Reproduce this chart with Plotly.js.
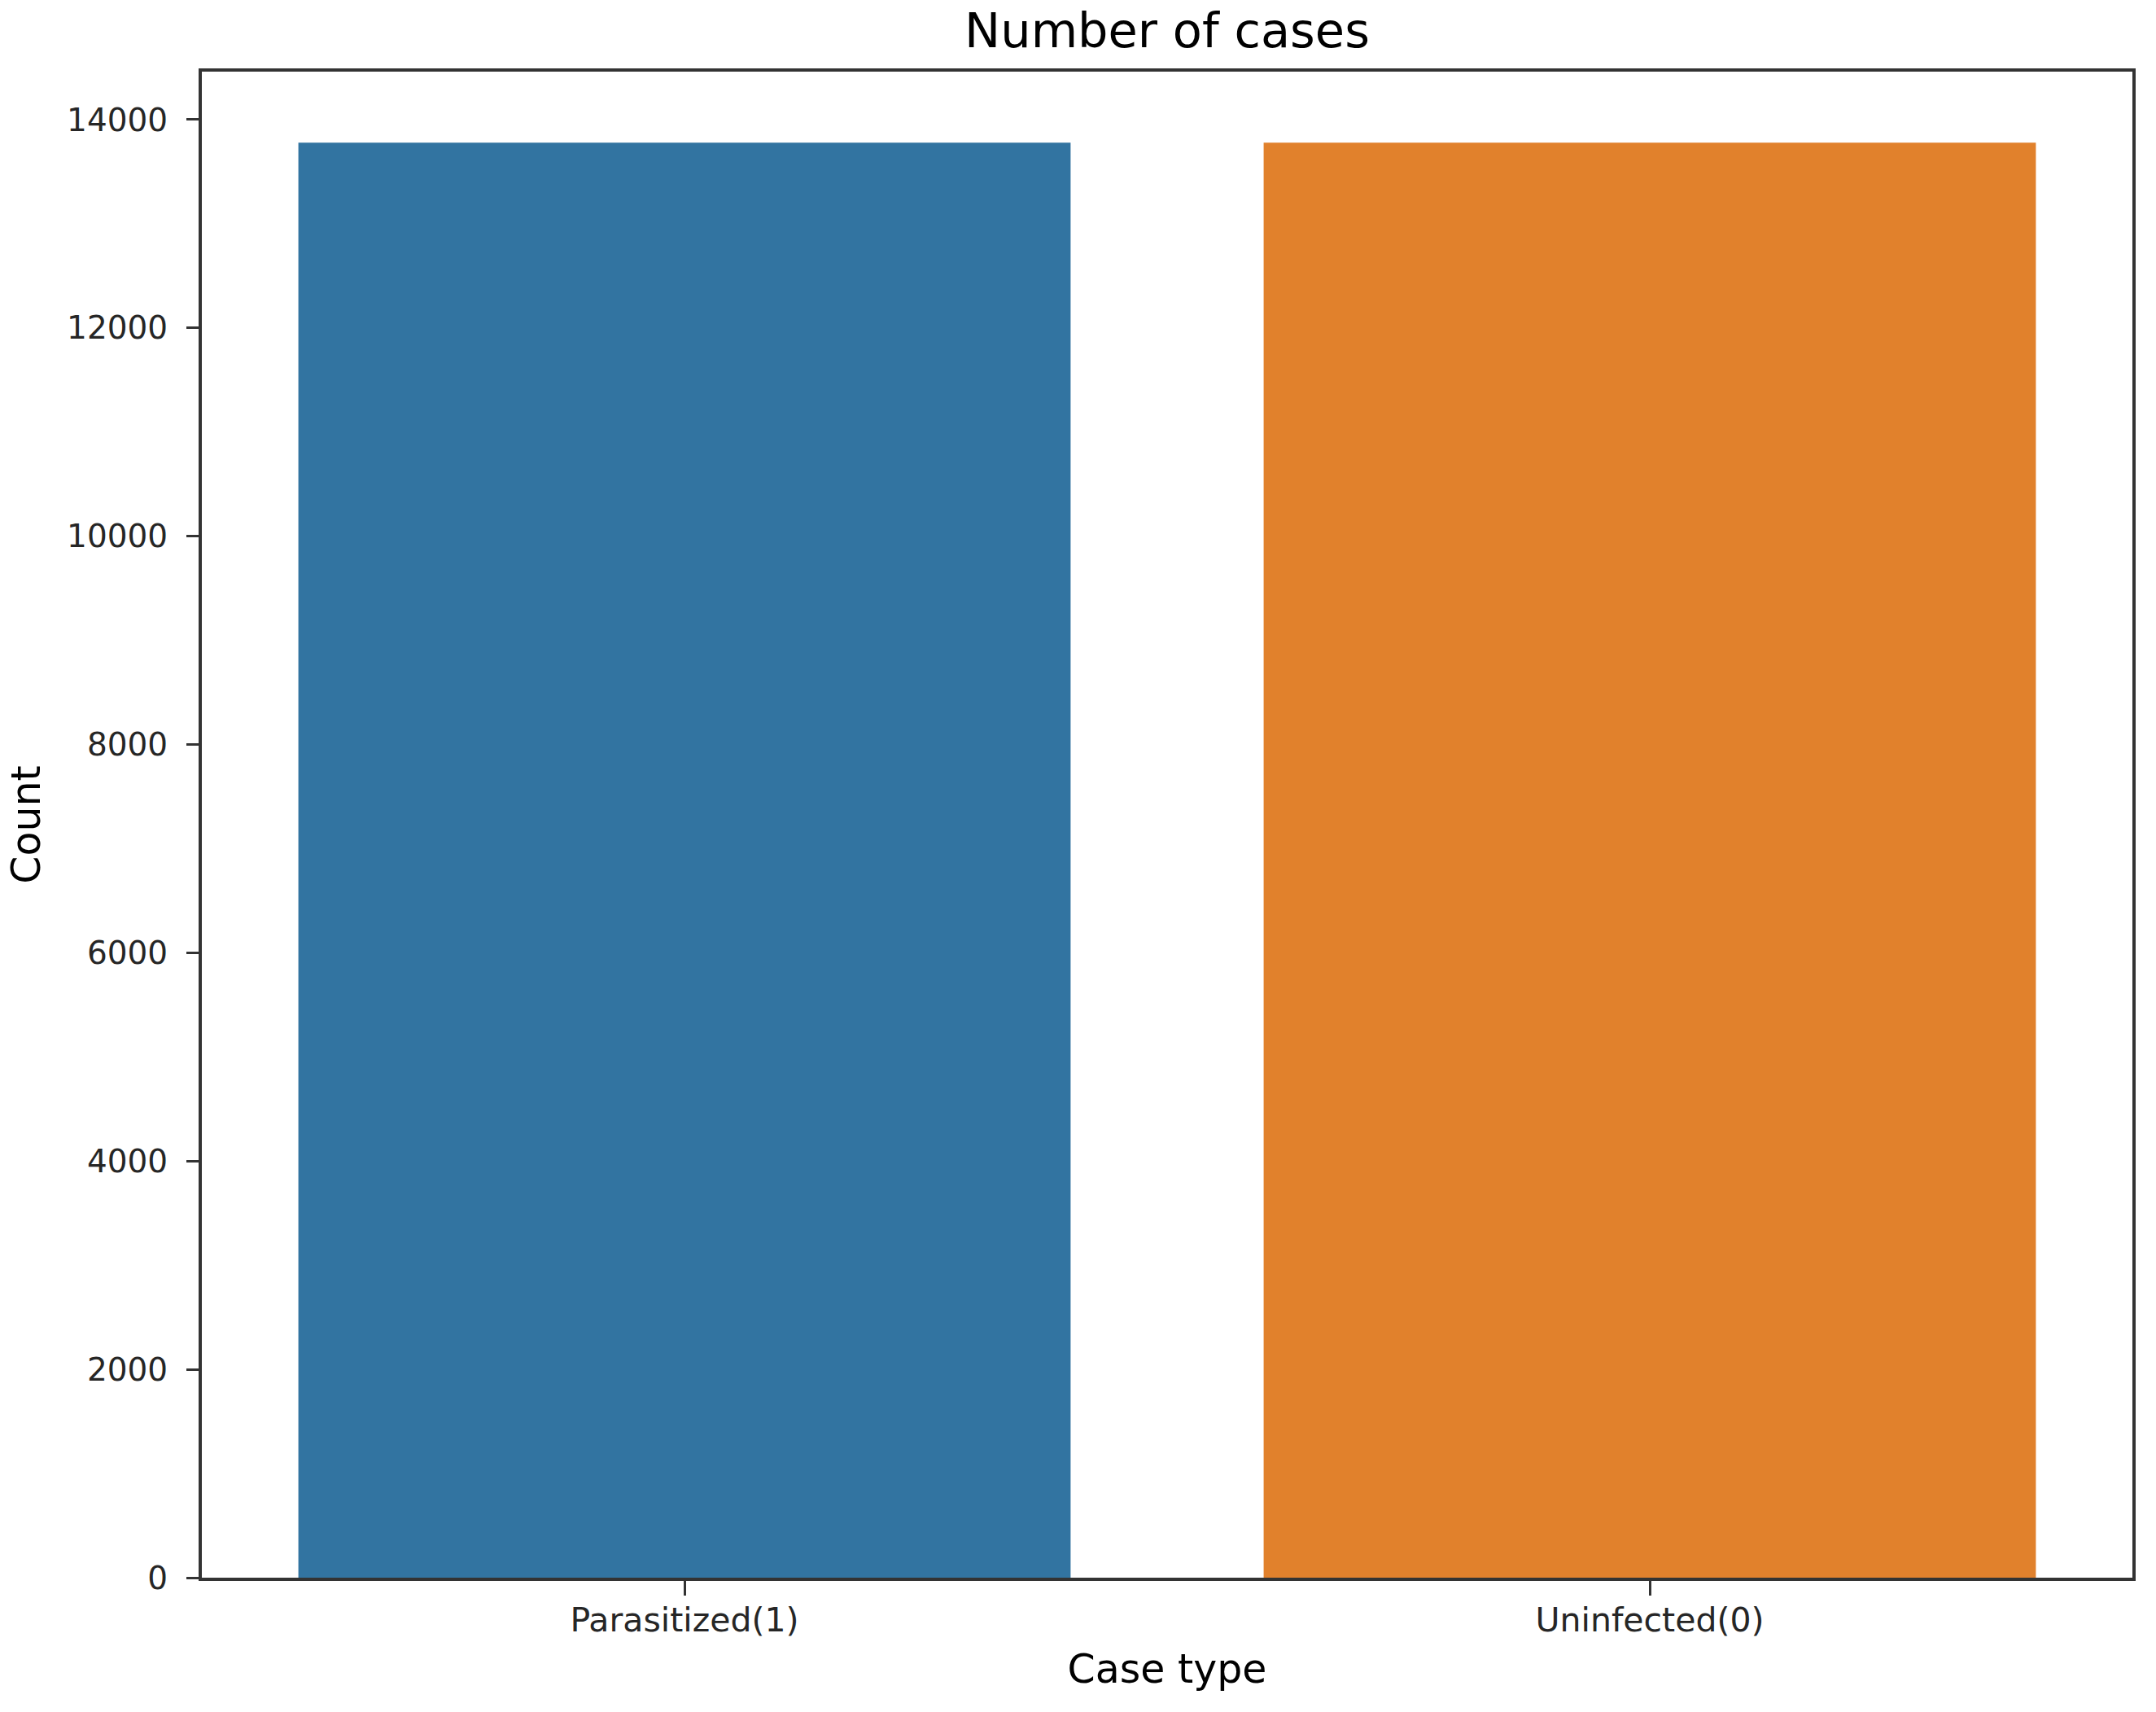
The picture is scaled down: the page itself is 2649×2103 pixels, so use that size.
<!DOCTYPE html>
<html>
<head>
<meta charset="utf-8">
<script src="https://cdn.plot.ly/plotly-3.0.1.min.js"></script>
<style>
  html, body { margin: 0; padding: 0; background: #ffffff; }
  #chart { width: 2649px; height: 2103px; }
</style>
</head>
<body>
<div id="chart"></div>
<script>
const categories = ["Parasitized(1)", "Uninfected(0)"];
const counts = [13779, 13779];
const barColors = ["#3274a1", "#e1812c"];
const yTickValues = [0, 2000, 4000, 6000, 8000, 10000, 12000, 14000];
const yTickLabels = ["0", "2000", "4000", "6000", "8000", "10000", "12000", "14000"];

const FONT = "DejaVu Sans, sans-serif";
const INK = "#262626";
const LINE = "#333333";

const trace = {
  type: "bar",
  x: categories,
  y: counts,
  width: 0.8,
  marker: { color: barColors, line: { width: 0 } },
  hoverinfo: "x+y",
  showlegend: false
};

const layout = {
  width: 2649,
  height: 2103,
  paper_bgcolor: "#ffffff",
  plot_bgcolor: "#ffffff",
  margin: { l: 248, r: 29, t: 88, b: 165, pad: 0 },
  font: { family: FONT, color: INK },
  title: {
    text: "Number of cases",
    font: { family: FONT, size: 59, color: "#000000" },
    x: 0.5,
    xref: "paper",
    xanchor: "center",
    y: 1 - 37 / 2103,
    yref: "container",
    yanchor: "middle"
  },
  xaxis: {
    type: "category",
    range: [-0.5, 1.5],
    showline: true,
    mirror: true,
    linecolor: LINE,
    linewidth: 4,
    ticks: "outside",
    ticklen: 18,
    tickwidth: 3,
    tickcolor: LINE,
    tickfont: { family: FONT, size: 41, color: INK },
    ticklabelstandoff: -5,
    showgrid: false,
    zeroline: false,
    automargin: false,
    title: {
      text: "Case type",
      font: { family: FONT, size: 49, color: "#000000" },
      standoff: 20
    }
  },
  yaxis: {
    range: [0, 14461],
    tickvals: yTickValues,
    ticktext: yTickLabels,
    showline: true,
    mirror: true,
    linecolor: LINE,
    linewidth: 4,
    ticks: "outside",
    ticklen: 15,
    tickwidth: 3,
    tickcolor: LINE,
    tickfont: { family: FONT, size: 39, color: INK },
    ticklabelstandoff: 15,
    showgrid: false,
    zeroline: false,
    automargin: false,
    title: {
      text: "Count",
      font: { family: FONT, size: 49, color: "#000000" },
      standoff: 18
    }
  },
  bargap: 0.2
};

Plotly.newPlot("chart", [trace], layout, { displayModeBar: false, staticPlot: true });
</script>
</body>
</html>
